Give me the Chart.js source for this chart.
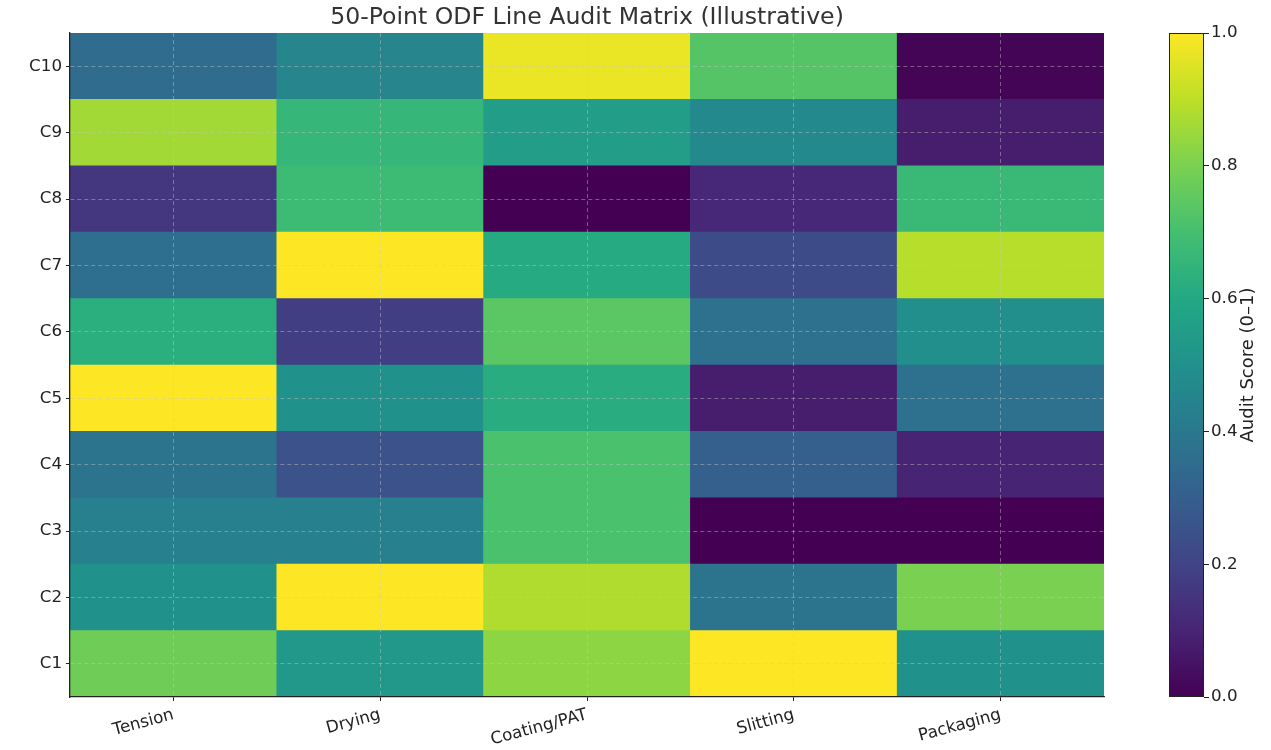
<!DOCTYPE html>
<html>
<head>
<meta charset="utf-8">
<script src="https://cdn.jsdelivr.net/npm/chart.js@4.4.1/dist/chart.umd.min.js"></script>
<style>
  body { margin: 0; background: #fff; }
  #wrap { position: relative; width: 1271px; height: 750px; }
  #main { position: absolute; left: 0; top: 0; }
  #cbar { position: absolute; left: 1150px; top: 0; }
</style>
</head>
<body>
<div id="wrap">
  <canvas id="main" width="1174" height="750"></canvas>
  <canvas id="cbar" width="121" height="750"></canvas>
</div>
<script>
// ── data ──────────────────────────────
const columns = ['Tension', 'Drying', 'Coating/PAT', 'Slitting', 'Packaging'];
const rowLabels = ['C1', 'C2', 'C3', 'C4', 'C5', 'C6', 'C7', 'C8', 'C9', 'C10'];

// audit scores per column, C1 .. C10
const tension   = [0.78, 0.50, 0.43, 0.38, 1.00, 0.63, 0.36, 0.16, 0.86, 0.35];
const drying    = [0.53, 1.00, 0.43, 0.25, 0.50, 0.18, 1.00, 0.68, 0.66, 0.45];
const coating   = [0.83, 0.88, 0.71, 0.71, 0.62, 0.74, 0.61, 0.00, 0.55, 0.97];
const slitting  = [1.00, 0.38, 0.00, 0.30, 0.08, 0.37, 0.23, 0.11, 0.47, 0.73];
const packaging = [0.50, 0.80, 0.00, 0.10, 0.37, 0.49, 0.89, 0.67, 0.08, 0.01];
const series = [tension, drying, coating, slitting, packaging];

const colorbarTicks = [0, 0.2, 0.4, 0.6, 0.8, 1.0];

const TITLE = '50-Point ODF Line Audit Matrix (Illustrative)';
const CBAR_LABEL = 'Audit Score (0–1)';

// ── viridis colormap ──────────────────
const VIRIDIS = ['#440154', '#482475', '#414487', '#355f8d', '#2a788e', '#21918c',
                 '#22a884', '#44bf70', '#7ad151', '#bddf26', '#fde725'];

function hexRgb(h) {
  return [1, 3, 5].map(i => parseInt(h.slice(i, i + 2), 16));
}
function viridis(t) {
  t = Math.max(0, Math.min(1, t));
  const p = t * 10;
  const i = Math.min(9, Math.floor(p));
  const f = p - i;
  const a = hexRgb(VIRIDIS[i]), b = hexRgb(VIRIDIS[i + 1]);
  const c = a.map((v, k) => Math.round(v + (b[k] - v) * f));
  return `rgb(${c[0]},${c[1]},${c[2]})`;
}

const FONT = "'DejaVu Sans', sans-serif";
const INK = '#222';
const GRID = 'rgba(200,200,200,0.55)';
const TICK_SIZE = 16.7;

// title centred over the plot area
const plotTitle = {
  id: 'plotTitle',
  afterDraw(chart) {
    const { ctx, chartArea: a } = chart;
    ctx.save();
    ctx.fillStyle = '#333';
    ctx.font = `23.6px ${FONT}`;
    ctx.textAlign = 'center';
    ctx.textBaseline = 'middle';
    ctx.fillText(TITLE, (a.left + a.right) / 2, a.top / 2 + 1);
    ctx.restore();
  },
};

// ── heatmap ───────────────────────────
const datasets = rowLabels.map((_, r) => ({
  data: columns.map(() => [r, r + 1]),
  backgroundColor: series.map(s => viridis(s[r])),
  borderWidth: 0,
  barPercentage: 1,
  categoryPercentage: 1,
  grouped: false,
}));

new Chart(document.getElementById('main'), {
  type: 'bar',
  data: { labels: columns, datasets },
  options: {
    responsive: false,
    animation: false,
    events: [],
    layout: { padding: { left: 0, right: 70, top: 33, bottom: 0 } },
    plugins: {
      legend: { display: false },
      tooltip: { enabled: false },
    },
    scales: {
      x: {
        offset: true,
        grid: { offset: false, color: GRID, lineWidth: 0.8, z: 1,
                tickColor: INK, tickLength: 4, tickWidth: 1, tickBorderDash: [] },
        border: { display: true, color: INK, width: 1.3, dash: [4, 3], z: 2 },
        ticks: { color: INK, font: { family: FONT, size: TICK_SIZE }, minRotation: 15, maxRotation: 15, padding: 4 },
        afterFit: s => { s.height = 53; },
      },
      y: {
        min: 0,
        max: rowLabels.length,
        afterBuildTicks: s => { s.ticks = rowLabels.map((_, i) => ({ value: i + 0.5 })); },
        grid: { color: GRID, lineWidth: 0.8, z: 1,
                tickColor: INK, tickLength: 4, tickWidth: 1, tickBorderDash: [] },
        border: { display: true, color: INK, width: 1.3, dash: [4, 3], z: 2 },
        ticks: {
          color: INK, font: { family: FONT, size: TICK_SIZE }, padding: 4,
          callback: v => rowLabels[Math.round(v - 0.5)],
        },
        afterFit: s => { s.width = 70; },
      },
    },
  },
  plugins: [plotTitle],
});

// ── colorbar ──────────────────────────
const cbarFrame = {
  id: 'cbarFrame',
  afterDraw(chart) {
    const { ctx, chartArea: a } = chart;
    ctx.save();
    ctx.strokeStyle = INK;
    ctx.lineWidth = 1;
    ctx.strokeRect(a.left + 0.5, a.top + 0.5, a.right - a.left - 1, a.bottom - a.top - 1);
    ctx.translate(98, (a.top + a.bottom) / 2);
    ctx.rotate(-Math.PI / 2);
    ctx.fillStyle = INK;
    ctx.font = `18px ${FONT}`;
    ctx.textAlign = 'center';
    ctx.textBaseline = 'middle';
    ctx.fillText(CBAR_LABEL, 0, 0);
    ctx.restore();
  },
};

new Chart(document.getElementById('cbar'), {
  type: 'bar',
  data: {
    labels: [''],
    datasets: [{
      data: [[colorbarTicks[0], colorbarTicks[colorbarTicks.length - 1]]],
      barPercentage: 1,
      categoryPercentage: 1,
      borderWidth: 0,
      backgroundColor: ctx => {
        const a = ctx.chart.chartArea;
        if (!a) return null;
        const g = ctx.chart.ctx.createLinearGradient(0, a.bottom, 0, a.top);
        VIRIDIS.forEach((c, i) => g.addColorStop(i / 10, c));
        return g;
      },
    }],
  },
  options: {
    responsive: false,
    animation: false,
    events: [],
    layout: { padding: { left: 19, right: 0, top: 33, bottom: 53 } },
    plugins: { legend: { display: false }, tooltip: { enabled: false } },
    scales: {
      x: { display: false },
      y: {
        position: 'right',
        min: 0,
        max: 1,
        afterBuildTicks: s => { s.ticks = colorbarTicks.map(v => ({ value: v })); },
        grid: { drawOnChartArea: false, tickColor: INK, tickLength: 5, tickWidth: 1 },
        border: { display: false },
        ticks: { color: INK, font: { family: FONT, size: TICK_SIZE }, padding: 2,
                 callback: v => v.toFixed(1) },
        afterFit: s => { s.width = 67; },
      },
    },
  },
  plugins: [cbarFrame],
});
</script>
</body>
</html>
